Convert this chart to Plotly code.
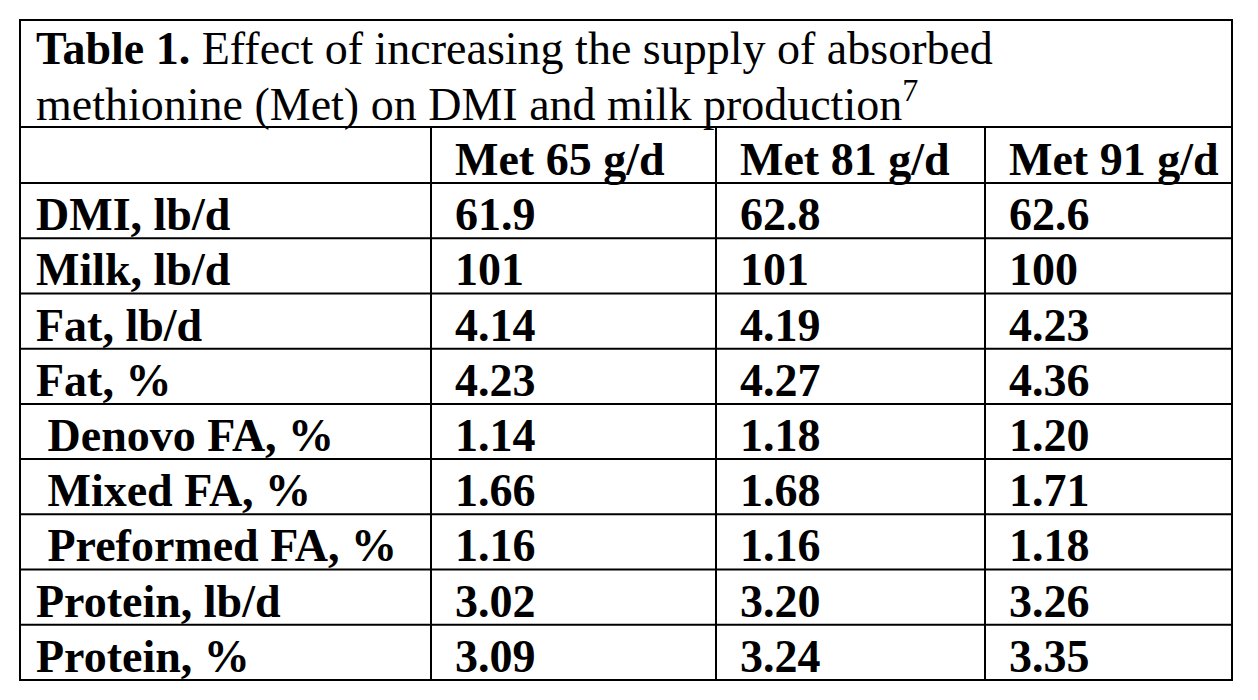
import plotly.graph_objects as go

# page body has an 8px margin, so the figure is 16px smaller and data coords = page px
W, H = 1242, 684
title_line1 = "<b>Table 1.</b> Effect of increasing the supply of absorbed"
title_line2 = "methionine (Met) on DMI and milk production<sup>7</sup>"
columns = ["", "Met 65 g/d", "Met 81 g/d", "Met 91 g/d"]
rows = ["DMI, lb/d", "Milk, lb/d", "Fat, lb/d", "Fat, %", "\u00a0Denovo FA, %",
        "\u00a0Mixed FA, %", "\u00a0Preformed FA, %", "Protein, lb/d", "Protein, %"]
met65 = ["61.9", "101", "4.14", "4.23", "1.14", "1.66", "1.16", "3.02", "3.09"]
met81 = ["62.8", "101", "4.19", "4.27", "1.18", "1.68", "1.16", "3.20", "3.24"]
met91 = ["62.6", "100", "4.23", "4.36", "1.20", "1.71", "1.18", "3.26", "3.35"]

left, right, top, title_bot, head_bot, bottom = 20, 1232, 20, 127, 183, 680
col_lines = [left, 431, 716, 985, right]
n = len(rows)
row_h = (bottom - head_bot) / n
fs = 46
font = dict(family="Liberation Serif", size=fs, color="black")
line = dict(color="black", width=2)

fig = go.Figure()
shapes = [dict(type="rect", x0=left, x1=right, y0=top, y1=bottom, line=line)]
for y in [title_bot, head_bot] + [head_bot + row_h * k for k in range(1, n)]:
    shapes.append(dict(type="line", x0=left, x1=right, y0=y, y1=y, line=line))
for x in col_lines[1:-1]:
    shapes.append(dict(type="line", x0=x, x1=x, y0=title_bot, y1=bottom, line=line))
for s in shapes:
    s.update(xref="x", yref="y")

ann = []
def txt(x, y, t, f=font):
    ann.append(dict(x=x, y=y, text=t, xref="x", yref="y", xanchor="left",
                    yanchor="middle", showarrow=False, font=f))

tf = dict(family="Liberation Serif", size=fs, color="black")
txt(34, 48, title_line1, tf)
txt(34, 101, title_line2, tf)
text_x = [36] + [c + 22 for c in col_lines[1:4]]
for j, c in enumerate(columns):
    if c:
        txt(text_x[j], (title_bot + head_bot) / 2 + 4, f"<b>{c}</b>")
for i in range(n):
    yc = head_bot + row_h * (i + 0.5) + 4
    for j, col in enumerate([rows, met65, met81, met91]):
        txt(text_x[j] if j else 34, yc, f"<b>{col[i]}</b>")

fig.update_layout(width=W, height=H, margin=dict(l=0, r=0, t=0, b=0),
                  paper_bgcolor="white", plot_bgcolor="white",
                  shapes=shapes, annotations=ann, showlegend=False,
                  xaxis=dict(range=[8, 8 + W], visible=False, fixedrange=True),
                  yaxis=dict(range=[8 + H, 8], visible=False, fixedrange=True))
fig.write_html("out.html")
